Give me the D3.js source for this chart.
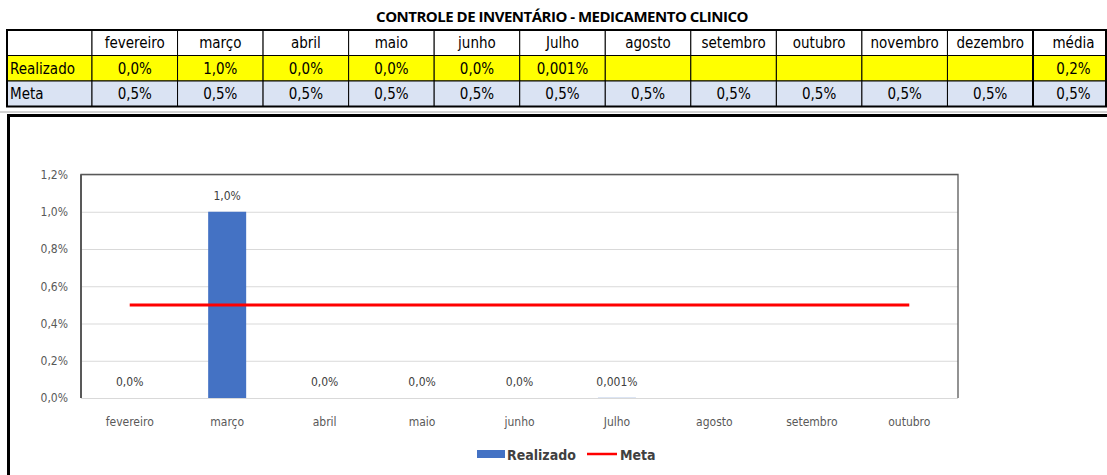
<!DOCTYPE html>
<html>
<head>
<meta charset="utf-8">
<script src="https://cdn.jsdelivr.net/npm/d3@7"></script>
<style>
  body { margin: 0; background: #fff; }
  svg { display: block; font-family: "Liberation Sans Narrow", "DejaVu Sans Condensed", "Roboto", sans-serif; }
</style>
</head>
<body>
<div class="container"></div>
<script>
// data
var tableMonths = ["fevereiro", "março", "abril", "maio", "junho", "Julho", "agosto", "setembro", "outubro", "novembro", "dezembro"];
var realizado = [0.0, 1.0, 0.0, 0.0, 0.0, 0.001, null, null, null, null, null];
var meta = [0.5, 0.5, 0.5, 0.5, 0.5, 0.5, 0.5, 0.5, 0.5, 0.5, 0.5];
var mediaRealizado = 0.2;
var mediaMeta = 0.5;
var chartMonths = ["fevereiro", "março", "abril", "maio", "junho", "Julho", "agosto", "setembro", "outubro"];
var yTicks = [0, 0.2, 0.4, 0.6, 0.8, 1.0, 1.2];
var title = "CONTROLE DE INVENTÁRIO - MEDICAMENTO CLINICO";

const WIDTH = 1107;
const HEIGHT = 475;

var br = d3.formatLocale({decimal: ",", thousands: ".", grouping: [3], currency: ["R$", ""]});
var pct = function (v) {
  if (v == null) return "";
  var f = (v !== 0 && v < 0.1) ? ".3f" : ".1f";
  return br.format(f)(v) + "%";
};

var svg = d3.select(".container").append("svg")
    .attr("width", WIDTH)
    .attr("height", HEIGHT);

// title
svg.append("text")
    .attr("x", 562).attr("y", 22)
    .attr("text-anchor", "middle")
    .style("font-family", "'Open Sans', sans-serif")
    .style("font-weight", "bold")
    .style("font-size", "15px")
    .style("letter-spacing", "-0.5px")
    .text(title);

// ---- table ----
var TL = 7, TT = 30, ROWH = 25.5, LABW = 85;
var colX = d3.scaleBand().domain(tableMonths).range([TL + LABW, 1033]);
var mediaW = 1106 - 1033;

var rows = [
  {label: "", fill: "#ffffff", vals: tableMonths, media: "média"},
  {label: "Realizado", fill: "#ffff00", vals: realizado.map(pct), media: pct(mediaRealizado)},
  {label: "Meta", fill: "#dae3f3", vals: meta.map(pct), media: pct(mediaMeta)}
];

rows.forEach(function (r, i) {
  var y = TT + i * ROWH;
  var g = svg.append("g");
  g.append("rect").attr("x", TL).attr("y", y).attr("width", LABW).attr("height", ROWH)
      .attr("fill", r.fill).attr("stroke", "#000").attr("stroke-width", 1);
  g.append("text").attr("x", TL + 3).attr("y", y + ROWH / 2 + 5.5)
      .style("font-size", "15px").text(r.label);
  tableMonths.forEach(function (m, j) {
    g.append("rect").attr("x", colX(m)).attr("y", y).attr("width", colX.bandwidth()).attr("height", ROWH)
        .attr("fill", r.fill).attr("stroke", "#000").attr("stroke-width", 1);
    g.append("text").attr("x", colX(m) + colX.bandwidth() / 2).attr("y", y + ROWH / 2 + 5.5)
        .attr("text-anchor", "middle").style("font-size", "15px").text(r.vals[j]);
  });
  g.append("rect").attr("x", 1033).attr("y", y).attr("width", mediaW).attr("height", ROWH)
      .attr("fill", r.fill).attr("stroke", "#000").attr("stroke-width", 1);
  g.append("text").attr("x", 1033 + mediaW / 2 + 4).attr("y", y + ROWH / 2 + 5.5)
      .attr("text-anchor", "middle").style("font-size", "15px").text(r.media);
});
// thick outer table border and média separator
svg.append("rect").attr("x", TL).attr("y", TT).attr("width", 1106 - TL).attr("height", ROWH * 3)
    .attr("fill", "none").attr("stroke", "#000").attr("stroke-width", 2);
svg.append("line").attr("x1", 1033).attr("x2", 1033).attr("y1", TT).attr("y2", TT + ROWH * 3)
    .attr("stroke", "#000").attr("stroke-width", 2);

// ---- chart box ----
svg.append("line").attr("x1", 0).attr("x2", WIDTH).attr("y1", 112).attr("y2", 112)
    .attr("stroke", "#a6a6a6").attr("stroke-width", 1);
svg.append("path").attr("d", "M8.5,480V115.5H1110")
    .attr("fill", "none").attr("stroke", "#000").attr("stroke-width", 3);

var PL = 81, PR = 958, PT = 174.5, PB = 398;
var x = d3.scaleBand().domain(chartMonths).range([PL, PR]).paddingInner(0.61).paddingOuter(0.305);
var y = d3.scaleLinear().domain([0, 1.2]).range([PB, PT]);

// gridlines + y labels
var yAxis = d3.axisLeft(y).tickValues(yTicks).tickSize(-(PR - PL)).tickPadding(13)
    .tickFormat(function (d) { return br.format(".1f")(d) + "%"; });
var ga = svg.append("g").attr("transform", "translate(" + PL + ",0)").call(yAxis);
ga.select(".domain").remove();
ga.selectAll(".tick line").attr("stroke", "#d9d9d9").attr("stroke-width", 1);
ga.selectAll(".tick text").attr("fill", "#595959").style("font-size", "12px")
    .style("font-family", "'Liberation Sans Narrow', 'DejaVu Sans Condensed', sans-serif");

// plot border
svg.append("path").attr("d", "M" + PL + "," + PB + "V" + PT + "H" + PR + "V" + PB)
    .attr("fill", "none").attr("stroke", "#595959").attr("stroke-width", 1.3);
svg.append("line").attr("x1", PL).attr("x2", PL).attr("y1", PT).attr("y2", PB)
    .attr("stroke", "#595959").attr("stroke-width", 2);

// x labels
var xAxis = d3.axisBottom(x).tickSize(0).tickPadding(19);
var gx = svg.append("g").attr("transform", "translate(0," + PB + ")").call(xAxis);
gx.select(".domain").remove();
gx.selectAll(".tick text").attr("fill", "#595959").style("font-size", "12px")
    .style("font-family", "'Liberation Sans Narrow', 'DejaVu Sans Condensed', sans-serif");

var chartData = chartMonths.map(function (m) {
  var i = tableMonths.indexOf(m);
  return {m: m, r: realizado[i], meta: meta[i]};
});

// bars
svg.selectAll(".bar").data(chartData.filter(function (d) { return d.r != null; }))
  .enter().append("rect")
    .attr("class", "bar")
    .attr("x", function (d) { return x(d.m); })
    .attr("y", function (d) { return y(d.r); })
    .attr("width", x.bandwidth())
    .attr("height", function (d) { return PB - y(d.r); })
    .attr("fill", "#4472c4");

// meta line
var line = d3.line()
    .x(function (d) { return x(d.m) + x.bandwidth() / 2; })
    .y(function (d) { return y(d.meta); });
svg.append("path").datum(chartData).attr("d", line)
    .attr("fill", "none").attr("stroke", "#ff0000").attr("stroke-width", 3);

// data labels
svg.selectAll(".lbl").data(chartData.filter(function (d) { return d.r != null; }))
  .enter().append("text")
    .attr("x", function (d) { return x(d.m) + x.bandwidth() / 2; })
    .attr("y", function (d) { return y(d.r) - 12; })
    .attr("text-anchor", "middle")
    .attr("fill", "#404040")
    .style("font-size", "12px")
    .text(function (d) { return pct(d.r); });

// legend
var lg = svg.append("g").attr("transform", "translate(477,454)");
lg.append("rect").attr("x", 0).attr("y", -4).attr("width", 28).attr("height", 8).attr("fill", "#4472c4");
lg.append("text").attr("x", 30).attr("y", 5.5).attr("fill", "#404040")
    .style("font-size", "14px").style("font-weight", "bold").text("Realizado");
lg.append("line").attr("x1", 110).attr("x2", 140).attr("y1", 0).attr("y2", 0)
    .attr("stroke", "#ff0000").attr("stroke-width", 2.5);
lg.append("text").attr("x", 143).attr("y", 5.5).attr("fill", "#404040")
    .style("font-size", "14px").style("font-weight", "bold").text("Meta");
</script>
</body>
</html>
